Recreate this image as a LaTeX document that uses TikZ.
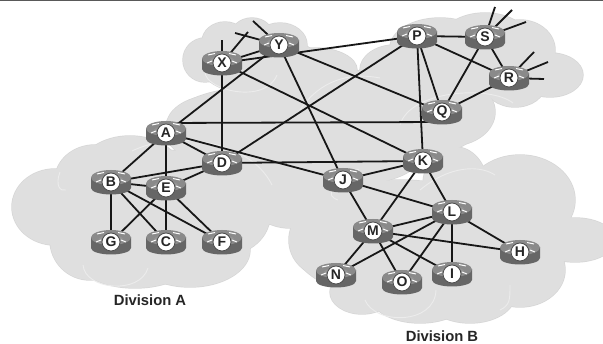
\documentclass[tikz,border=0pt]{standalone}
\usepackage{fontspec}
\setmainfont{Liberation Sans}
\pgfdeclarelayer{clouds}
\pgfdeclarelayer{links}
\pgfsetlayers{clouds,links,main}
\definecolor{cloudfill}{gray}{0.875}
\definecolor{cloudedge}{gray}{0.84}
\definecolor{cloudinner}{gray}{0.925}
\definecolor{linkc}{gray}{0.09}
\definecolor{bodyc}{gray}{0.40}
\definecolor{topc}{gray}{0.54}
\tikzset{
  x=1pt,y=-1pt,
  link/.style={draw=linkc,line width=1.8pt},
  inner arc/.style={draw=cloudinner,line width=0.9pt},
  routerlabel/.style={circle,fill=white,draw=black!70,line width=0.8pt,minimum size=18pt,inner sep=0pt,font=\bfseries\fontsize{14}{14}\selectfont,text=black!85},
  divlabel/.style={font=\bfseries\fontsize{14.8}{16}\selectfont,text=black!85,inner sep=0pt}
}
\newcommand{\rtr}[3]{%
  \begin{scope}[shift={(#2)}]
    \fill[bodyc] (-20,-5) -- (-20,6) .. controls (-20,10) and (-10,12.5) .. (0,12.5) .. controls (10,12.5) and (20,10) .. (20,6) -- (20,-5) -- cycle;
    \fill[topc] (0,-4.5) ellipse [x radius=20,y radius=7.5];
    \fill[bodyc!70!white] (0,-3) ellipse [x radius=12,y radius=3.5];
    \draw[white,line width=1pt] (-14,-8) -- (-7,-9.5) (7,-9.5) -- (14,-8) (-15,0) -- (-10,-2) (10,-2) -- (15,0);
  \end{scope}
  \node[routerlabel] (#1) at (#2) {#3};%
}
\newcommand{\cloudset}[1]{%
  \foreach \cx/\cy/\rx/\ry in {#1} {\draw[cloudedge,line width=1.4pt] (\cx,\cy) ellipse [x radius=\rx,y radius=\ry];}%
  \foreach \cx/\cy/\rx/\ry in {#1} {\fill[cloudfill] (\cx,\cy) ellipse [x radius=\rx,y radius=\ry];}%
}
\begin{document}
\begin{tikzpicture}
\useasboundingbox (0,0) rectangle (603,344);
\begin{pgfonlayer}{clouds}
\fill[white] (0,0) rectangle (603,344);
\clip (0,0) rectangle (603,344);
\cloudset{
 55/207/43/38, 95/180/40/35, 130/170/50/34, 90/240/40/40, 135/262/55/26, 190/250/60/37,
 160/210/100/60, 225/215/45/40, 250/195/35/35, 290/190/45/38,
 205/60/22/22, 225/42/23/20, 252/38/22/20, 280/45/27/22, 315/70/42/22, 260/65/60/30,
 485/42/45/29, 440/48/50/30, 520/50/35/30, 550/75/33/22, 515/85/30/22, 450/112/45/34, 395/70/35/25, 380/82/25/20, 440/70/60/40,
 217/125/50/30, 250/130/85/42, 310/115/55/40, 370/110/55/40, 410/130/60/30, 300/165/70/32, 430/135/42/17, 350/150/75/35,
 325/240/36/36, 362/292/32/22, 420/295/50/28, 470/295/45/28, 520/270/45/37, 575/240/40/22, 520/200/55/45, 455/185/32/38, 400/240/110/60
}
\draw[inner arc] (60,172) .. controls (55,185) and (60,192) .. (66,190);
\draw[inner arc] (132,151) .. controls (175,130) and (250,140) .. (272,185);
\draw[inner arc] (83,265) .. controls (85,290) and (140,295) .. (148,268);
\draw[inner arc] (352,170) .. controls (380,165) and (310,190) .. (338,200);
\draw[inner arc] (420,190) .. controls (450,165) and (480,165) .. (495,175);
\draw[inner arc] (365,300) .. controls (375,325) and (435,325) .. (436,290);
\draw[inner arc] (510,285) .. controls (510,300) and (510,305) .. (500,310);
\draw[inner arc] (300,110) .. controls (320,80) and (350,72) .. (380,78);
\draw[inner arc] (205,72) .. controls (205,90) and (265,105) .. (277,75);
\draw[inner arc] (400,125) .. controls (410,90) and (490,85) .. (513,103);
\end{pgfonlayer}
\fill[black!65] (0,0) rectangle (603,1);
% routers
\rtr{X}{222,63}{X}
\rtr{Y}{279,45}{Y}
\rtr{P}{417,36}{P}
\rtr{S}{485,37}{S}
\rtr{R}{509,78}{R}
\rtr{Q}{442,112}{Q}
\rtr{A}{166,133}{A}
\rtr{D}{222,163}{D}
\rtr{B}{111,182}{B}
\rtr{E}{166,188}{E}
\rtr{G}{111,242}{G}
\rtr{C}{166,242}{C}
\rtr{F}{222,242}{F}
\rtr{K}{423,161}{K}
\rtr{J}{343,180}{J}
\rtr{L}{452,212}{L}
\rtr{M}{373,231}{M}
\rtr{N}{336,275}{N}
\rtr{O}{402,282}{O}
\rtr{I}{452,274}{I}
\rtr{H}{520,252}{H}
% free ends
\coordinate (x1) at (222,40);
\coordinate (x2) at (248,32);
\coordinate (y1) at (235,33);
\coordinate (y2) at (253,21);
\coordinate (s1) at (495,7);
\coordinate (s2) at (512,10);
\coordinate (s3) at (526,22);
\coordinate (r1) at (534,52);
\coordinate (r2) at (548,62);
\coordinate (r3) at (544,79);
\begin{pgfonlayer}{links}
\foreach \a/\b in {X/x1,X/x2,Y/y1,Y/y2,S/s1,S/s2,S/s3,R/r1,R/r2,R/r3,
  X/Y,X/D,Y/A,X/P,X/K,Y/J,Y/Q,P/D,P/S,P/R,P/Q,P/K,S/Q,S/R,R/Q,
  A/B,A/E,A/D,A/J,D/K,D/B,D/E,B/E,B/G,E/G,B/C,E/C,B/F,E/F,
  K/J,K/M,K/L,J/L,J/M,M/L,L/N,L/O,L/I,L/H,M/N,M/O,M/I,M/H}
  {\draw[link] (\a) -- (\b);}
\draw[link] ([yshift=10pt]A.center) -- ([yshift=-10pt]Q.center);
\end{pgfonlayer}
\node[divlabel] (divA) at (150,300) {Division A};
\node[divlabel] (divB) at (442,336) {Division B};
\end{tikzpicture}
\end{document}
